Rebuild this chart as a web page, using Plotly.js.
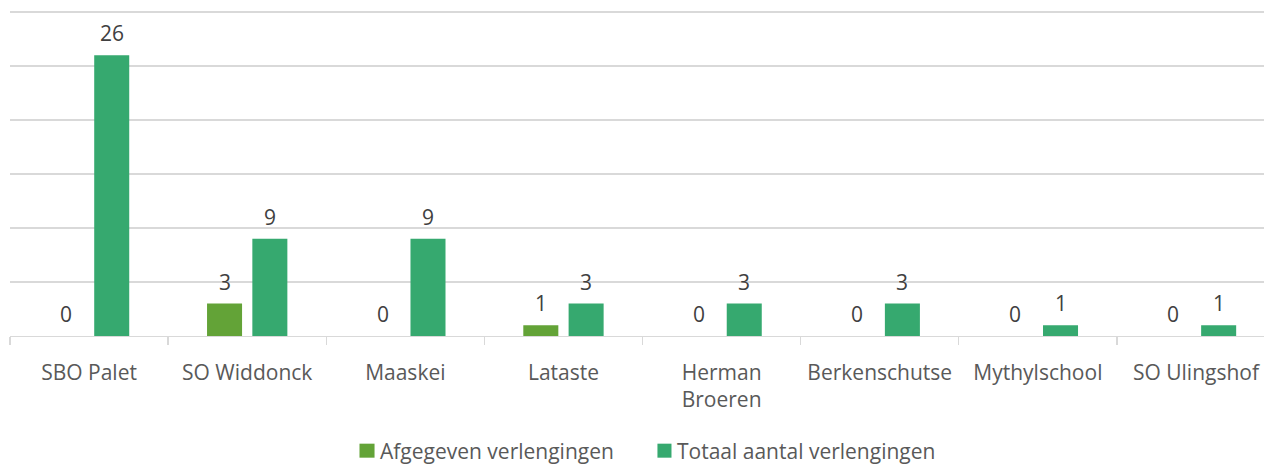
<!DOCTYPE html>
<html>
<head>
<meta charset="utf-8">
<script src="https://cdn.plot.ly/plotly-3.0.1.min.js"></script>
<style>html,body{margin:0;padding:0;background:#fff;}#chart{width:1264px;height:471px;}</style>
</head>
<body>
<div id="chart"></div>
<script>
const categories = ["SBO Palet", "SO Widdonck", "Maaskei", "Lataste", "Herman<br>Broeren", "Berkenschutse", "Mythylschool", "SO Ulingshof"];
const afgegeven = [0, 3, 0, 1, 0, 0, 0, 0];
const totaal = [26, 9, 9, 3, 3, 3, 1, 1];
const seriesNames = ["Afgegeven verlengingen", "Totaal aantal verlengingen"];
const colors = ["#63A337", "#36A96F"];

const font = "'Open Sans', 'Noto Sans', sans-serif";

const traces = [
  {type: "bar", name: seriesNames[0], x: categories, y: afgegeven, marker: {color: colors[0]}, hoverinfo: "none", showlegend: false},
  {type: "bar", name: seriesNames[1], x: categories, y: totaal, marker: {color: colors[1]}, hoverinfo: "none", showlegend: false}
];

const annotations = [];
[afgegeven, totaal].forEach((vals, s) => {
  vals.forEach((v, i) => {
    annotations.push({
      x: categories[i], y: v, xref: "x", yref: "y",
      text: String(v), showarrow: false,
      xshift: s === 0 ? -22.65 : 22.65, yshift: 22,
      yanchor: "middle", xanchor: "center",
      font: {family: font, size: 21, color: "#404040"}
    });
  });
});

// custom legend (swatch + text), positioned in paper coordinates
const legendSwatchX = [[0.2787, 0.2907], [0.5163, 0.5275]];
const legendTextX = [0.2935, 0.5303];
const shapes = [];
seriesNames.forEach((n, s) => {
  shapes.push({type: "rect", xref: "paper", yref: "paper",
    x0: legendSwatchX[s][0], x1: legendSwatchX[s][1], y0: -0.3313, y1: -0.3744,
    fillcolor: colors[s], line: {width: 0}});
  annotations.push({xref: "paper", yref: "paper", x: legendTextX[s], y: -0.3529,
    xanchor: "left", yanchor: "middle", showarrow: false, text: n,
    font: {family: font, size: 21, color: "#595959"}});
});

const layout = {
  width: 1264, height: 471,
  margin: {l: 10, r: 0, t: 11, b: 134.5},
  paper_bgcolor: "#fff", plot_bgcolor: "#fff",
  barmode: "group", bargap: 0.427, bargroupgap: 0.227,
  showlegend: false,
  xaxis: {type: "category", range: [-0.5, 7.43], tickson: "boundaries", ticks: "outside", ticklen: 8,
          tickcolor: "#d9d9d9", tickwidth: 1.3, showline: true, linecolor: "#d9d9d9", linewidth: 1.3,
          showgrid: false, ticklabelstandoff: 17,
          tickfont: {family: font, size: 21, color: "#595959"}},
  yaxis: {range: [0, 30.1], dtick: 5, showticklabels: false, showgrid: true, gridcolor: "#d9d9d9", gridwidth: 1.3,
          zeroline: false, fixedrange: true},
  shapes: shapes,
  annotations: annotations
};

Plotly.newPlot("chart", traces, layout, {displayModeBar: false, staticPlot: true});
</script>
</body>
</html>
